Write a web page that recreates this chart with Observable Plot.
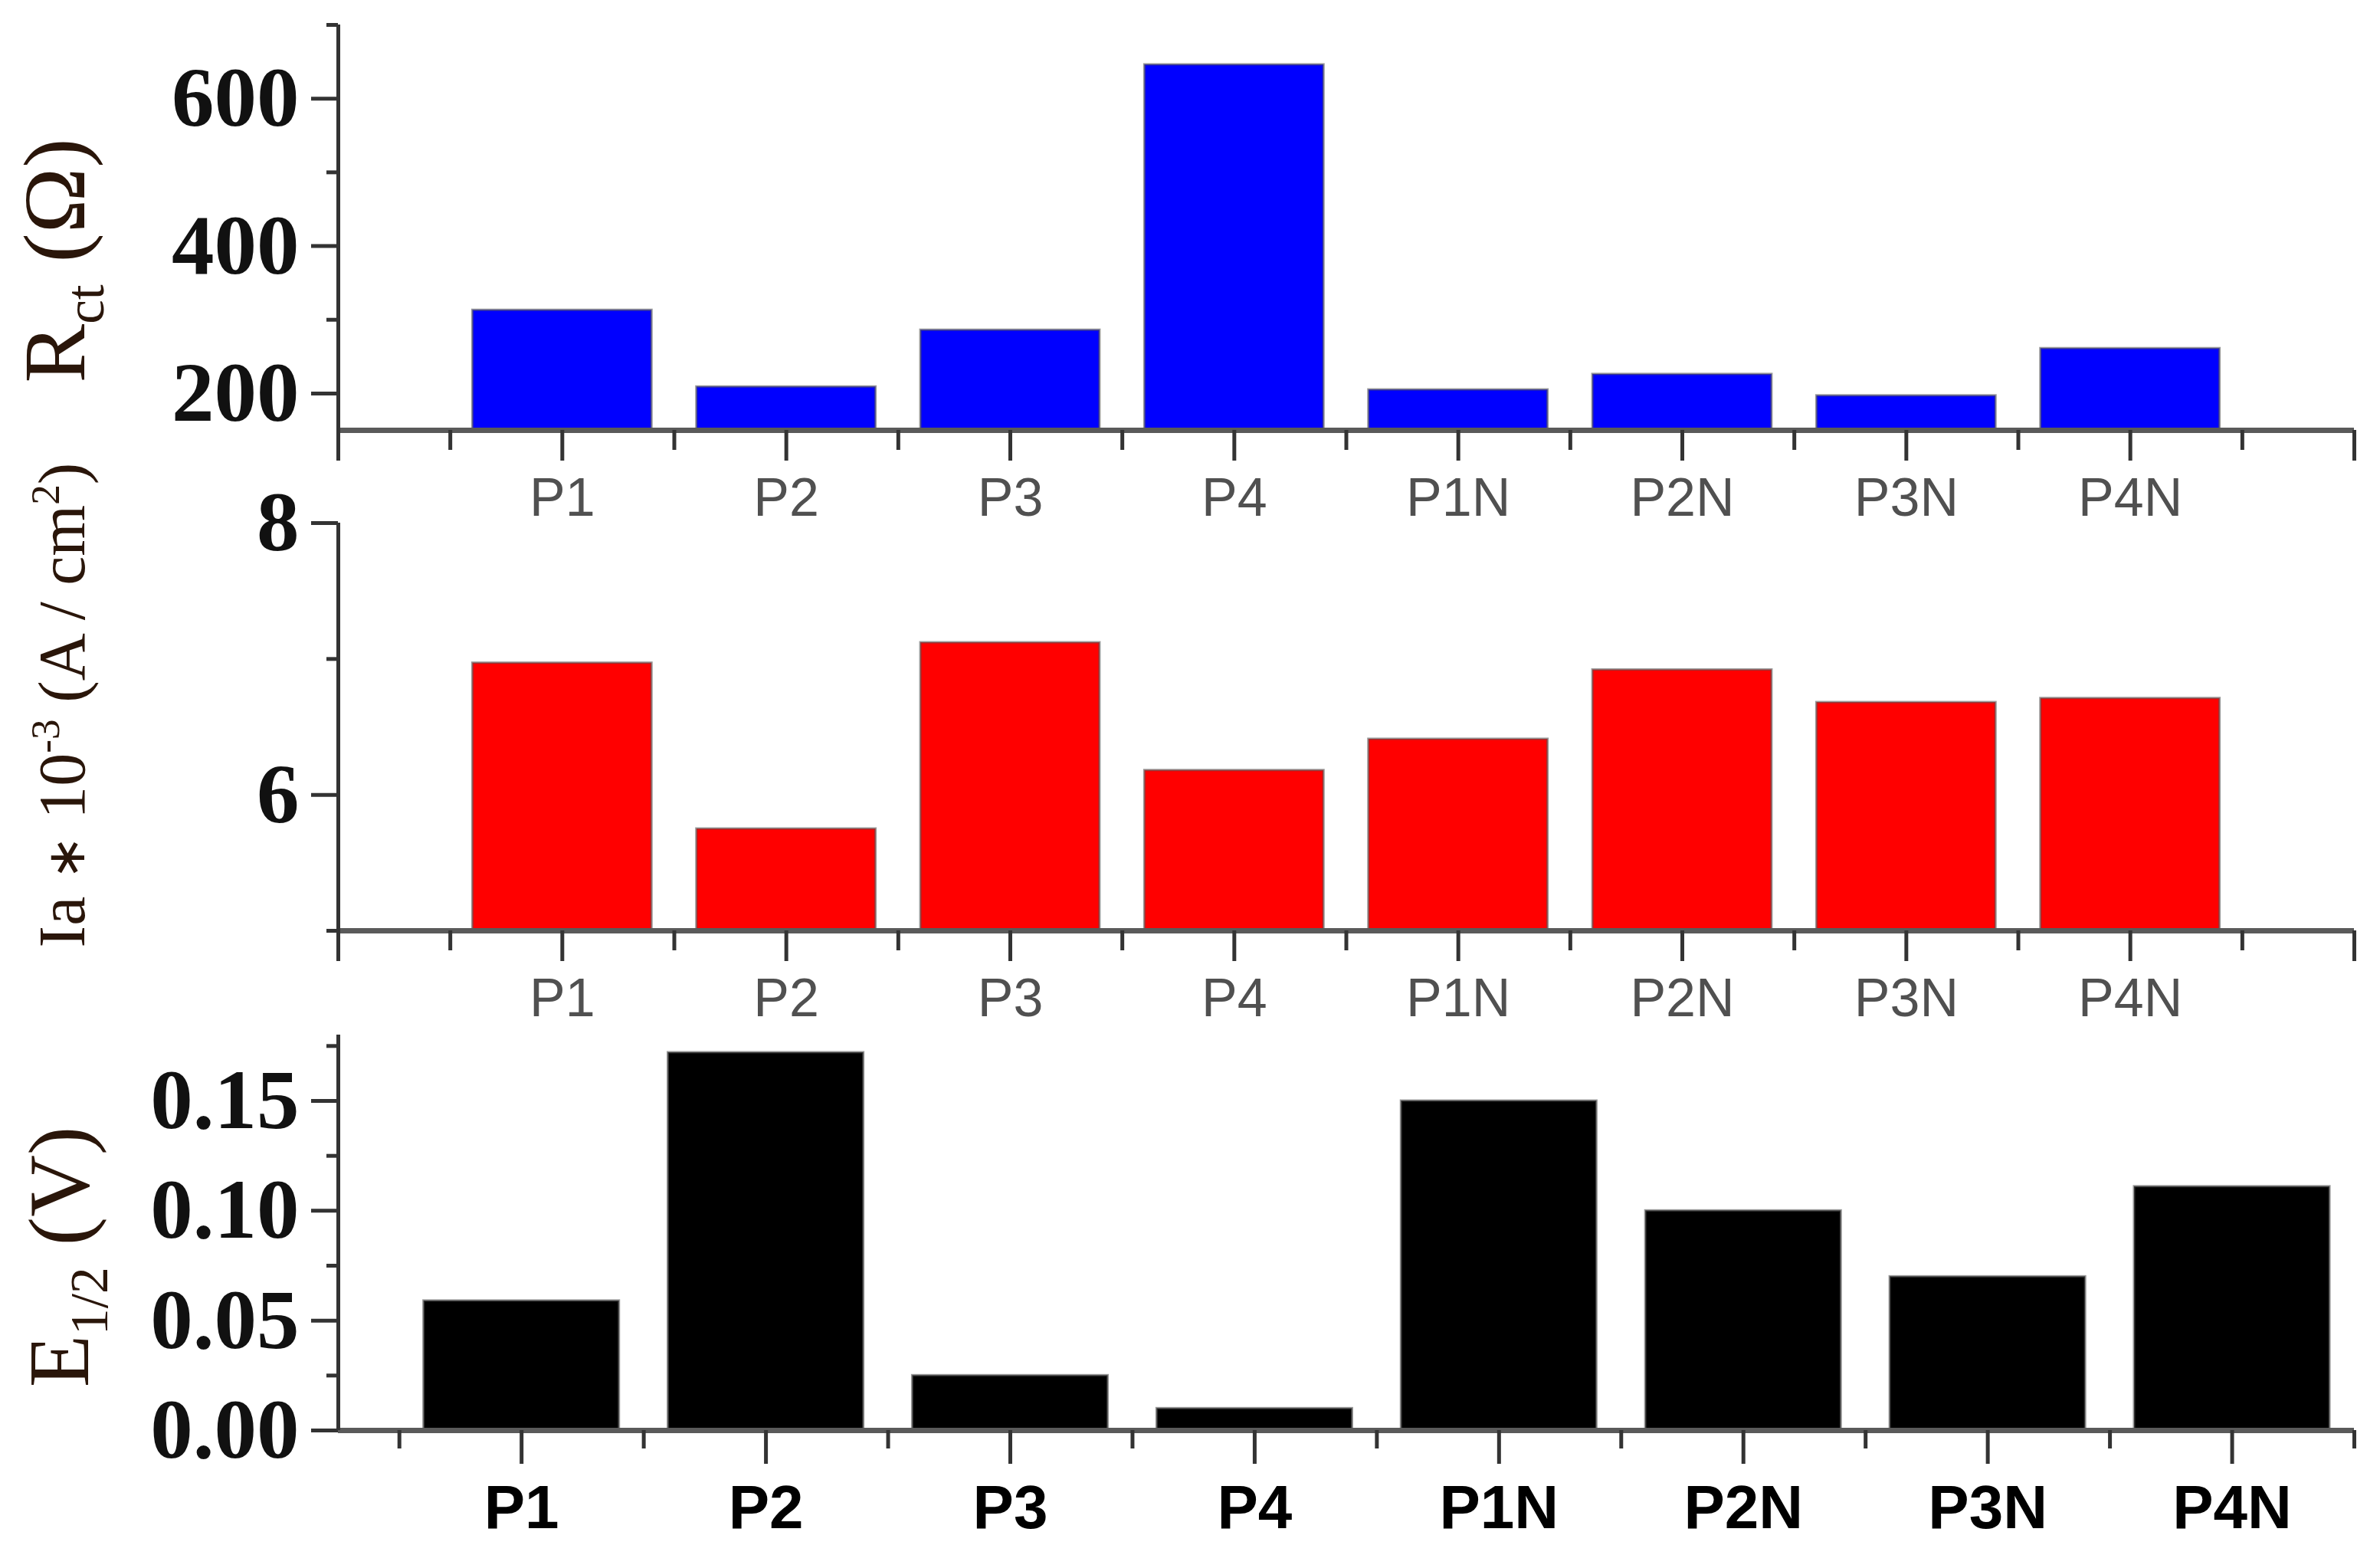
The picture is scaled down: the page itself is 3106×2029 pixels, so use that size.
<!DOCTYPE html>
<html><head><meta charset="utf-8">
<script src="https://cdn.jsdelivr.net/npm/d3@7"></script>
<script src="https://cdn.jsdelivr.net/npm/@observablehq/plot@0.6"></script>
<style>
html,body{margin:0;padding:0;background:#fff;}
#chart{width:3106px;}
#chart svg{display:block;overflow:visible;}
</style></head><body><div id="chart"></div>
<script>
// ---- data ----
const categories = ["P1", "P2", "P3", "P4", "P1N", "P2N", "P3N", "P4N"];
const rctValues = [313, 209, 286, 646, 205, 226, 197, 261];
const iaValues = [6.97, 5.75, 7.12, 6.18, 6.41, 6.92, 6.68, 6.71];
const e12Values = [0.059, 0.172, 0.025, 0.010, 0.150, 0.100, 0.070, 0.111];

const rctMajor = [200, 400, 600];
const rctMinor = [300, 500, 700];
const iaMajor = [6, 8];
const iaMinor = [5, 7];
const e12Major = [0, 0.05, 0.10, 0.15];
const e12Minor = [0.025, 0.075, 0.125, 0.175];

const rctTitle = [{t: "R"}, {t: "ct", sub: true}, {t: " (Ω)"}];
const iaTitle = [{t: "Ia "}, {t: "∗", small: true}, {t: " 10"}, {t: "-3", sup: true}, {t: " (A / cm"}, {t: "2", sup: true}, {t: ")"}];
const e12Title = [{t: "E"}, {t: "1/2", sub: true}, {t: " (V)"}];

const W = 3106;
const ML = 441, MR = 34;
const serif = "Liberation Serif, Times New Roman, serif";
const sans = "Liberation Sans, Arial, sans-serif";
const titleColor = "#2a160a";

function rows(values) {
  return categories.map((c, i) => ({c, pos: i + 1, v: values[i]}));
}

function addTitle(svg, parts, bx, cy, fs) {
  const t = d3.select(svg).append("text")
    .attr("transform", `translate(${bx},${cy}) rotate(-90)`)
    .attr("text-anchor", "middle")
    .attr("font-family", serif)
    .attr("font-size", fs)
    .attr("fill", titleColor);
  let shift = 0;
  for (const p of parts) {
    const target = p.sub ? fs * 0.22 : p.sup ? -fs * 0.38 : 0;
    t.append("tspan")
      .attr("font-size", (p.sub || p.sup) ? fs * 0.62 : p.small ? fs * 0.8 : fs)
      .attr("dy", target - shift)
      .text(p.t);
    shift = target;
  }
}

function panel(o) {
  const data = rows(o.values);
  const plot = Plot.plot({
    width: W,
    height: o.height,
    marginLeft: ML,
    marginRight: MR,
    marginTop: o.mt,
    marginBottom: o.mb,
    style: {background: "transparent", overflow: "visible"},
    x: {type: "linear", domain: o.xDomain, label: null},
    y: {domain: o.yDomain, label: null},
    marks: [
      Plot.rectY(data, {
        x1: d => d.pos - 0.4, x2: d => d.pos + 0.4,
        y1: o.yDomain[0], y2: "v",
        fill: o.color, stroke: "#555", strokeOpacity: 0.6, strokeWidth: 3
      }),
      Plot.ruleY([o.yDomain[0]], {stroke: "#5a5a5a", strokeWidth: 7}),
      Plot.ruleX([o.xDomain[0]], {stroke: "#333", strokeWidth: 5}),
      Plot.axisY(o.yMajor, {
        anchor: "left", tickSize: 35, tickPadding: 16, label: null,
        tickFormat: o.yFmt, fontSize: 111, fontFamily: serif, fontWeight: "bold",
        fill: "#111", stroke: "#333", strokeWidth: 5
      }),
      Plot.axisY(o.yMinor, {
        anchor: "left", tickSize: 15, label: null, tickFormat: () => "",
        stroke: "#333", strokeWidth: 5
      }),
      Plot.axisX(o.xMajor, {
        anchor: "bottom", tickSize: o.majorLen, tickPadding: o.xPad, label: null,
        tickFormat: d => categories[d - 1] ?? "",
        fontSize: o.xFont, fontFamily: sans, fontWeight: o.xWeight,
        fill: o.xColor, stroke: "#333", strokeWidth: 5
      }),
      Plot.axisX(o.xMinor, {
        anchor: "bottom", tickSize: o.minorLen, label: null, tickFormat: () => "",
        stroke: "#333", strokeWidth: 5
      })
    ]
  });
  addTitle(plot, o.title, o.tx, o.ty, o.tfs);
  return plot;
}

const catPos = categories.map((c, i) => i + 1);
const halfPos = categories.map((c, i) => i + 0.5).concat([categories.length + 0.5]);

const chart = document.getElementById("chart");

chart.append(panel({
  values: rctValues, color: "#0000ff",
  yDomain: [150, 700], yMajor: rctMajor, yMinor: rctMinor, yFmt: d => String(d),
  xDomain: [0, 9], xMajor: [0].concat(catPos, [9]), xMinor: halfPos,
  height: 680, mt: 32, mb: 119,
  majorLen: 40, minorLen: 26, xPad: 22, xFont: 70, xWeight: "normal", xColor: "#505050",
  title: rctTitle, tx: 110, ty: 340, tfs: 115
}));

chart.append(panel({
  values: iaValues, color: "#ff0000",
  yDomain: [5, 8], yMajor: iaMajor, yMinor: iaMinor, yFmt: d => String(d),
  xDomain: [0, 9], xMajor: [0].concat(catPos, [9]), xMinor: halfPos,
  height: 660, mt: 2, mb: 126,
  majorLen: 40, minorLen: 26, xPad: 22, xFont: 70, xWeight: "normal", xColor: "#505050",
  title: iaTitle, tx: 110, ty: 240, tfs: 86
}));

chart.append(panel({
  values: e12Values, color: "#000000",
  yDomain: [0, 0.18], yMajor: e12Major, yMinor: e12Minor, yFmt: d => d.toFixed(2),
  xDomain: [0.25, 8.5], xMajor: catPos, xMinor: halfPos,
  height: 689, mt: 10, mb: 163,
  majorLen: 44, minorLen: 24, xPad: 27, xFont: 80, xWeight: "bold", xColor: "#000",
  title: e12Title, tx: 115, ty: 300, tfs: 112
}));
</script></body></html>
